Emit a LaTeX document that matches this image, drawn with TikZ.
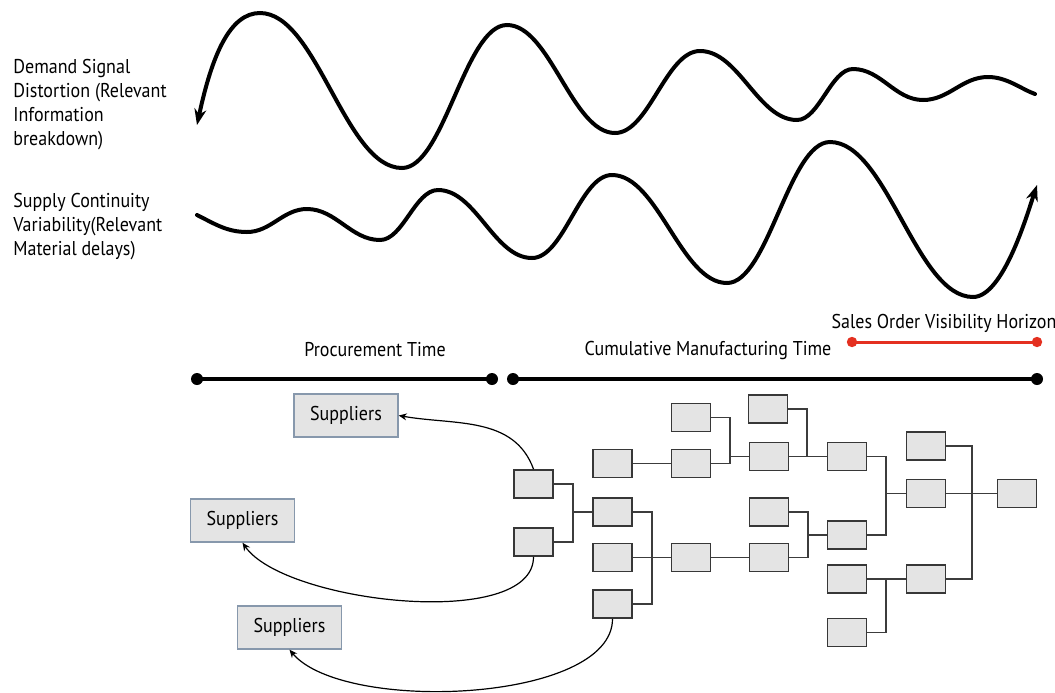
\documentclass[tikz,border=0pt]{standalone}
\usepackage{fontspec}
\setmainfont{PT Sans}[FakeStretch=0.9]
\usetikzlibrary{arrows.meta, positioning, calc}
\definecolor{boxgray}{RGB}{228,228,228}
\definecolor{boxline}{RGB}{55,55,55}
\definecolor{supline}{RGB}{135,152,172}
\definecolor{horizonred}{RGB}{228,48,32}
\definecolor{linkgray}{RGB}{60,60,60}
\tikzset{
  partbox/.style={rectangle, draw=boxline, fill=boxgray, line width=0.9pt,
    minimum width=19.5pt, minimum height=14pt, inner sep=0pt},
  supbox/.style={rectangle, draw=supline, fill=boxgray, line width=0.7pt,
    minimum width=52pt, minimum height=21.5pt, inner sep=0pt,
    font=\fontsize{10}{12}\selectfont},
  link/.style={draw=linkgray, line width=0.75pt},
  wave/.style={line width=2pt, line cap=round},
  timeline/.style={line width=2pt},
  redline/.style={line width=1.5pt, color=horizonred},
  sourcearrow/.style={-{Stealth[length=4pt, width=3.5pt]}, line width=0.6pt},
  note/.style={align=left, inner sep=0pt, anchor=north west,
    font=\fontsize{10}{12}\selectfont},
  spanlabel/.style={inner sep=0pt, font=\fontsize{10}{12}\selectfont},
}
\begin{document}
\begin{tikzpicture}[x=0.5pt, y=0.5pt]
  \useasboundingbox (0,0) rectangle (1055,-692);

  % side notes
  \node[note] (demand) at (13,-59)
    {Demand Signal\\Distortion (Relevant\\Information\\breakdown)};
  \node[note] (supply) at (13,-193)
    {Supply Continuity\\Variability(Relevant\\Material delays)};

  % demand and supply waves
  \draw[wave, {Stealth[length=8pt, width=6pt]}-] (197,-125)
    .. controls +(15,70) and +(-30,0) .. (260,-13)
    .. controls +(57,0) and +(-57,0) .. (402,-168)
    .. controls +(42,0) and +(-42,0) .. (507,-25)
    .. controls +(43,0) and +(-43,0) .. (615,-133)
    .. controls +(34,0) and +(-34,0) .. (700,-51)
    .. controls +(39,0) and +(-39,0) .. (797,-120)
    .. controls +(22,0) and +(-22,0) .. (853,-69)
    .. controls +(28,0) and +(-28,0) .. (923,-100)
    .. controls +(26,0) and +(-26,0) .. (988,-77)
    .. controls +(19,0) and +(-14,5) .. (1035,-94);
  \draw[wave, -{Stealth[length=8pt, width=6pt]}] (197,-215)
    .. controls +(18,-9) and +(-20,0) .. (247,-232)
    .. controls +(24,0) and +(-24,0) .. (307,-209)
    .. controls +(29,0) and +(-29,0) .. (380,-240)
    .. controls +(23,0) and +(-23,0) .. (438,-190)
    .. controls +(38,0) and +(-38,0) .. (532,-258)
    .. controls +(32,0) and +(-32,0) .. (612,-175)
    .. controls +(46,0) and +(-46,0) .. (727,-283)
    .. controls +(41,0) and +(-41,0) .. (830,-142)
    .. controls +(57,0) and +(-57,0) .. (973,-297)
    .. controls +(30,0) and +(-10,-30) .. (1037,-185);

  % time spans
  \coordinate (procL) at (197,-379);
  \coordinate (procR) at (492,-379);
  \coordinate (mfgL) at (513,-379);
  \coordinate (mfgR) at (1037,-379);
  \coordinate (salesL) at (852,-342);
  \coordinate (salesR) at (1037,-342);
  \draw[timeline] (procL) -- (procR);
  \draw[timeline] (mfgL) -- (mfgR);
  \foreach \p in {procL,procR,mfgL,mfgR}
    \fill (\p) circle (3pt);
  \draw[redline] (salesL) -- (salesR);
  \foreach \p in {salesL,salesR}
    \fill[horizonred] (\p) circle (2.6pt);
  \node[spanlabel] (proclabel) at (375,-350) {Procurement Time};
  \node[spanlabel] (mfglabel) at (708,-350) {Cumulative Manufacturing Time};
  \node[spanlabel] (saleslabel) at (944,-323) {Sales Order Visibility Horizon};

  % bill of materials
  \foreach \n/\x/\y in {A1/533.5/484, A2/533.5/542,
      B1/612.5/463.5, B2/612.5/512, B3/612.5/557.5, B4/612.5/604,
      C1/691/417.5, C2/691/463.5, C3/691/557.5,
      D1/768/409, D2/769/456.5, D3/769/512, D4/769/557.5,
      E1/847/456.5, E2/847/535, E3/847/579, E4/847/632.5,
      F1/926/446, F2/926/493.5, F3/926/579, G/1017/493.5}
    \node[partbox] (\n) at (\x,-\y) {};

  \coordinate (jA) at (573,-512);
  \coordinate (jB) at (652,-557.5);
  \coordinate (jC) at (730,-463.5);
  \coordinate (jD) at (807,-456.5);
  \coordinate (jDb) at (808,-535);
  \coordinate (jE) at (886,-493.5);
  \coordinate (jEb) at (886,-579);
  \coordinate (jF) at (972,-493.5);

  \draw[link] (A1.east) -| (jA) |- (A2.east);
  \draw[link] (jA) -- (B2.west);
  \draw[link] (B1.east) -- (C2.west);
  \draw[link] (B2.east) -| (jB) |- (B4.east);
  \draw[link] (B3.east) -- (C3.west);
  \draw[link] (C1.east) -| (jC) -- (C2.east);
  \draw[link] (D2.west) -- (D2.west -| jC);
  \draw[link] (C3.east) -- (D4.west);
  \draw[link] (D1.east) -| (jD);
  \draw[link] (D2.east) -- (E1.west);
  \draw[link] (D3.east) -| (jDb) |- (D4.east);
  \draw[link] (jDb) -- (E2.west);
  \draw[link] (E1.east) -| (jE) |- (E2.east);
  \draw[link] (jE) -- (F2.west);
  \draw[link] (E3.east) -- (F3.west);
  \draw[link] (E4.east) -| (jEb);
  \draw[link] (F1.east) -| (jF) |- (F3.east);
  \draw[link] (F2.east) -- (G.west);

  % suppliers
  \node[supbox] (sup1) at (346,-415.5) {Suppliers};
  \node[supbox] (sup2) at (242.5,-520.5) {Suppliers};
  \node[supbox] (sup3) at (289.5,-627.5) {Suppliers};
  \draw[sourcearrow] (A1.north) to[out=110,in=-10] (sup1.east);
  \draw[sourcearrow] (A2.south) to[out=-90,in=-55,looseness=0.65] (sup2.south);
  \draw[sourcearrow] (B4.south) to[out=-90,in=-50,looseness=0.66] (sup3.south);
\end{tikzpicture}
\end{document}
